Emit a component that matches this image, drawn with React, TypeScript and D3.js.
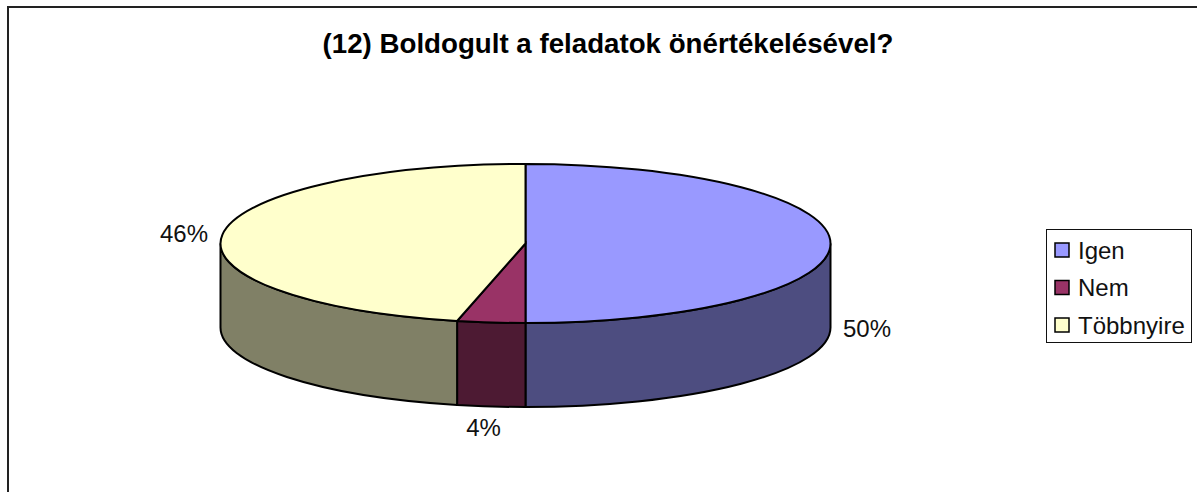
import React from 'react'
import * as d3 from 'd3'

const categories = ['Igen', 'Nem', 'Többnyire']
const values = [50, 3.6, 46.4]
const topColors = ['#9999ff', '#993366', '#ffffcc']
const sideColors = ['#4d4d80', '#4d1a33', '#808066']
const chartTitle = '(12) Boldogult a feladatok önértékelésével?'

const W = 1197
const H = 492
const cx = 525.5
const cy = 243.5
const rx = 305
const ry = 79.5
const depth = 84

const font = '"Liberation Sans", Arial, sans-serif'

const pt = (a: number, dy = 0): [number, number] => [
  cx + rx * Math.sin(a),
  cy - ry * Math.cos(a) + dy,
]

function App() {
  const arcs = d3.pie<number>().sort(null)(values)
  const total = d3.sum(values)

  // top face: plain d3 arc, squashed to an ellipse
  const arc = d3.arc<d3.PieArcDatum<number>>().innerRadius(0).outerRadius(rx)

  // side wall only for the part of the slice on the front half
  const side = (d: d3.PieArcDatum<number>) => {
    const a0 = Math.max(d.startAngle, Math.PI / 2)
    const a1 = Math.min(d.endAngle, (3 * Math.PI) / 2)
    if (a1 <= a0) return null
    const [x0, y0] = pt(a0)
    const [x1, y1] = pt(a1)
    return (
      `M${x0},${y0} A${rx},${ry} 0 0 1 ${x1},${y1} ` +
      `L${x1},${y1 + depth} A${rx},${ry} 0 0 0 ${x0},${y0 + depth} Z`
    )
  }

  const labelPos = [
    { x: 867, y: 337 },
    { x: 483.5, y: 436 },
    { x: 184, y: 242 },
  ]

  return (
    <svg
      width={W}
      height={H}
      style={{ position: 'absolute', left: 0, top: 0, background: '#fff' }}
    >
      {/* only the top and left of the chart frame are inside the picture */}
      <path d={`M8,${H} V7 H${W}`} fill="none" stroke="#222" strokeWidth={2} />
      <text x={608} y={53} textAnchor="middle" fontFamily={font} fontWeight="bold" fontSize={27.7} fill="#000">
        {chartTitle}
      </text>

      {arcs.map((d, i) => {
        const p = side(d)
        return p ? <path key={i} d={p} fill={sideColors[i]} stroke="#000" strokeWidth={2} /> : null
      })}
      <g transform={`translate(${cx},${cy}) scale(1,${ry / rx})`}>
        {arcs.map((d, i) => (
          <path
            key={i}
            d={arc(d) as string}
            fill={topColors[i]}
            stroke="#000"
            strokeWidth={2}
            vectorEffect="non-scaling-stroke"
          />
        ))}
      </g>

      {arcs.map((d, i) => (
        <text
          key={i}
          x={labelPos[i].x}
          y={labelPos[i].y}
          textAnchor="middle"
          fontFamily={font}
          fontSize={24}
          fill="#111"
        >
          {d3.format('.0%')(d.value / total)}
        </text>
      ))}

      <rect x={1046.5} y={229.5} width={145} height={113} fill="#fff" stroke="#111" strokeWidth={1} />
      {categories.map((c, i) => (
        <g key={c}>
          <rect
            x={1055}
            y={243 + i * 37.5}
            width={14}
            height={14}
            fill={topColors[i]}
            stroke="#000"
            strokeWidth={1.5}
          />
          <text x={1078} y={258.5 + i * 37.5} fontFamily={font} fontSize={24} fill="#111">
            {c}
          </text>
        </g>
      ))}
    </svg>
  )
}

export default App
